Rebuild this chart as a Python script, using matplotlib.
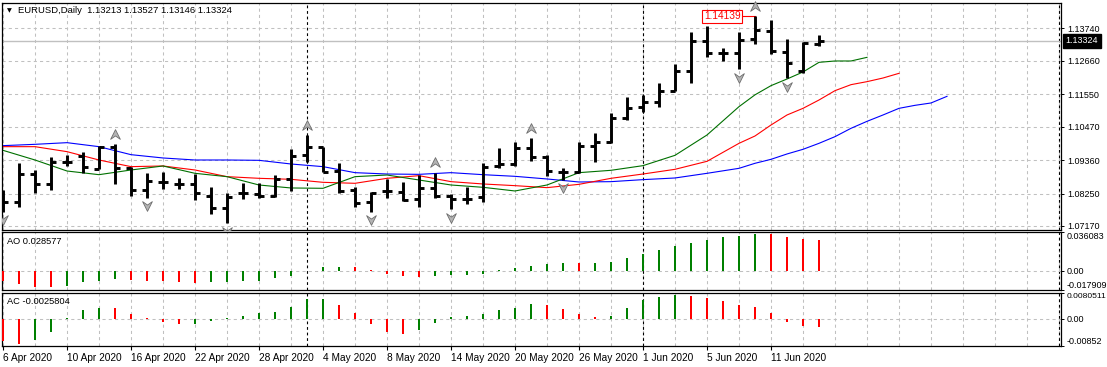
import numpy as np
import pandas as pd
import matplotlib
matplotlib.use('Agg')
import matplotlib.pyplot as plt
from matplotlib.path import Path
from matplotlib.ticker import MultipleLocator, FixedLocator
from matplotlib.transforms import ScaledTranslation

plt.rcParams['font.family'] = ['Liberation Sans', 'DejaVu Sans']
plt.rcParams['font.size'] = 7

# daily EURUSD bars, 6 Apr .. 16 Jun 2020
dates = pd.bdate_range('2020-04-06', '2020-06-16')

opens = [1.08050, 1.07957, 1.08898, 1.08555, 1.09287, 1.09508, 1.09076, 1.09807, 1.09087, 1.08367,
         1.08622, 1.08578, 1.08578, 1.08168, 1.07758, 1.08256, 1.08234, 1.08168, 1.08733, 1.09519,
         1.09796, 1.09009, 1.08367, 1.07957, 1.08334, 1.08312, 1.08068, 1.08445, 1.08168, 1.08068,
         1.08123, 1.09176, 1.09220, 1.09774, 1.09475, 1.08976, 1.08954, 1.09841, 1.09973, 1.10749,
         1.11115, 1.11303, 1.11669, 1.12333, 1.13331, 1.12932, 1.12932, 1.13386, 1.13663, 1.12943,
         1.12333, 1.13213]
highs = [1.08367, 1.09254, 1.09032, 1.09475, 1.09530, 1.09641, 1.09841, 1.09896, 1.09143, 1.08943,
         1.08976, 1.08777, 1.08887, 1.08456, 1.08278, 1.08611, 1.08589, 1.08865, 1.09719, 1.10195,
         1.09807, 1.09254, 1.08478, 1.08312, 1.08733, 1.08644, 1.08865, 1.08943, 1.08223, 1.08478,
         1.09254, 1.09752, 1.09973, 1.10084, 1.09519, 1.09087, 1.09951, 1.10273, 1.10915, 1.11447,
         1.11524, 1.11912, 1.12555, 1.13607, 1.13818, 1.13100, 1.13607, 1.14139, 1.14017, 1.13386,
         1.13297, 1.13527]
lows = [1.07647, 1.07813, 1.08278, 1.08367, 1.09176, 1.08921, 1.09054, 1.08555, 1.08168, 1.08112,
        1.08389, 1.08389, 1.08035, 1.07558, 1.07259, 1.08068, 1.08090, 1.08146, 1.08334, 1.09309,
        1.08954, 1.08278, 1.07791, 1.07647, 1.08112, 1.08002, 1.07813, 1.08090, 1.07725, 1.07902,
        1.07979, 1.09087, 1.09176, 1.09331, 1.08832, 1.08699, 1.08921, 1.09309, 1.09918, 1.10694,
        1.10971, 1.11137, 1.11669, 1.11934, 1.12776, 1.12666, 1.12378, 1.13209, 1.12876, 1.12079,
        1.12267, 1.13146]
closes = [1.07957, 1.08898, 1.08555, 1.09287, 1.09287, 1.09143, 1.09807, 1.09087, 1.08367, 1.08666,
          1.08622, 1.08578, 1.08256, 1.07758, 1.08146, 1.08256, 1.08179, 1.08733, 1.09497, 1.09796,
          1.08976, 1.08345, 1.07946, 1.08278, 1.08334, 1.08035, 1.08445, 1.08168, 1.08068, 1.08068,
          1.09143, 1.09220, 1.09774, 1.09475, 1.08998, 1.08976, 1.09841, 1.09973, 1.10749, 1.11081,
          1.11303, 1.11669, 1.12322, 1.13331, 1.12932, 1.12932, 1.13353, 1.13685, 1.12998, 1.12577,
          1.13242, 1.13324]

# alligator lines (shifted forward), read at these bar positions
jaw_idx = list(range(0, 46, 2)) + list(range(46, 60))
jaw = [1.09841, 1.09885, 1.09940, 1.09807, 1.09541, 1.09431, 1.09364, 1.09364, 1.09353, 1.09231,
       1.09143, 1.08943, 1.08898, 1.08887, 1.08943, 1.08876, 1.08821, 1.08733, 1.08633, 1.08644,
       1.08711, 1.08766, 1.08921,
       1.09087, 1.09254, 1.09386, 1.09564, 1.09719, 1.09918, 1.10140, 1.10417, 1.10649, 1.10860,
       1.11081, 1.11181, 1.11259, 1.11480]
teeth_idx = list(range(0, 46, 2)) + list(range(46, 57))
teeth = [1.09807, 1.09807, 1.09641, 1.09364, 1.09143, 1.09165, 1.09032, 1.08810, 1.08755, 1.08722,
         1.08622, 1.08589, 1.08755, 1.08843, 1.08644, 1.08567, 1.08511, 1.08445, 1.08555, 1.08755,
         1.08898, 1.09054, 1.09320,
         1.09918, 1.10162, 1.10527, 1.10860, 1.11081, 1.11358, 1.11669, 1.11868, 1.11968, 1.12089,
         1.12245]
lips_idx = list(range(0, 46, 2)) + list(range(46, 55))
lips = [1.09685, 1.09364, 1.08998, 1.08876, 1.09032, 1.09165, 1.08921, 1.08810, 1.08533, 1.08434,
        1.08423, 1.08810, 1.08865, 1.08699, 1.08533, 1.08456, 1.08334, 1.08533, 1.08943, 1.09021,
        1.09176, 1.09519, 1.10195,
        1.11137, 1.11530, 1.11835, 1.12056, 1.12289, 1.12610, 1.12655, 1.12655, 1.12776]

frac_up = [7, 19, 27, 33, 47]
frac_down = [0, 9, 14, 23, 28, 35, 46, 49]

ao = [-0.0092, -0.0123, -0.0153, -0.0154, -0.0138, -0.0107, -0.0092, -0.0077, -0.0083, -0.0092,
      -0.0098, -0.0107, -0.0117, -0.0107, -0.0106, -0.0098, -0.0092, -0.0071, -0.0052, -0.0004,
      0.0031, 0.0032, 0.0030, 0.0003, -0.0034, -0.0052, -0.0061, -0.0052, -0.0043, -0.0042,
      -0.0034, 0.0002, 0.0021, 0.0046, 0.0058, 0.0067, 0.0066, 0.0069, 0.0080, 0.0114,
      0.0153, 0.0187, 0.0224, 0.0255, 0.0279, 0.0307, 0.0319, 0.0337, 0.0335, 0.0307,
      0.0291, 0.028577]
ac = [-0.0069, -0.0077, -0.0066, -0.0040, 0.0001, 0.0026, 0.0034, 0.0033, 0.0015, 0.0002,
      -0.0009, -0.0018, -0.0015, -0.0008, 0.0001, 0.0009, 0.0018, 0.0021, 0.0037, 0.0059,
      0.0060, 0.0043, 0.0018, -0.0015, -0.0040, -0.0046, -0.0036, -0.0012, 0.0006, 0.0009,
      0.0015, 0.0028, 0.0034, 0.0046, 0.0043, 0.0031, 0.0015, 0.0006, 0.0009, 0.0034,
      0.0056, 0.0068, 0.0072, 0.0071, 0.0064, 0.0055, 0.0043, 0.0037, 0.0018, -0.0011,
      -0.0024, -0.0025804]

price_ticks = [1.07170, 1.08250, 1.09360, 1.10470, 1.11550, 1.12660, 1.13740]
ao_ticks = [-0.017909, 0.0, 0.036083]
ac_ticks = [-0.00852, 0.0, 0.0080511]
ao_labels = ['-0.017909', '0.00', '0.036083']
ac_labels = ['-0.00852', '0.00', '0.0080511']

W, H = 1107, 367
NUM_FS = 6.5
fig = plt.figure(figsize=(W / 100, H / 100), dpi=100)
fig.patch.set_facecolor('white')


def px_axes(left, top, right, bottom):
    return fig.add_axes([left / W, 1 - bottom / H, (right - left) / W, (bottom - top) / H])


ax = px_axes(2, 2.5, 1061, 230)
ax_ao = px_axes(2, 231.5, 1061, 290)
ax_ac = px_axes(2, 292.5, 1061, 346.3)

grid_kw = dict(color='#c0c0c0', linestyle=(0, (3, 3)), linewidth=0.75)
sep_kw = dict(color='black', linestyle=(0, (2.5, 2.5)), linewidth=0.8)
x = np.arange(len(closes))
month_start = [i for i in range(1, len(dates)) if dates[i].month != dates[i - 1].month]

for a in (ax, ax_ao, ax_ac):
    a.set_xlim(-0.0625, 66.125)
    a.xaxis.set_major_locator(FixedLocator(list(range(0, len(x), 4))))
    a.xaxis.set_minor_locator(MultipleLocator(2))
    a.grid(True, which='both', axis='x', **grid_kw)
    a.set_axisbelow(True)
    for s in a.spines.values():
        s.set_linewidth(0.9)
        s.set_color('black')
    a.yaxis.tick_right()
    a.tick_params(axis='y', which='both', direction='out', length=2.2, width=0.7, pad=2.0,
                  labelsize=NUM_FS, colors='black')
    a.tick_params(axis='x', which='minor', length=0)
    for m in month_start:
        a.axvline(m, zorder=1, **sep_kw)
    a.axvline(66.0, zorder=1, **sep_kw)

for a in (ax, ax_ao):
    a.tick_params(axis='x', which='major', length=0, labelbottom=False)

# main price panel
ax.set_ylim(1.07037, 1.14599)
ax.set_yticks(price_ticks)
ax.set_yticklabels([f'{v:.5f}' for v in price_ticks])
ax.grid(True, axis='y', **grid_kw)
ax.axhline(closes[-1], color='#c0c0c0', linewidth=1.0, zorder=1.5)

ax.plot(jaw_idx, jaw, color='#0000ff', linewidth=0.8, zorder=2)
ax.plot(teeth_idx, teeth, color='#ff0000', linewidth=0.8, zorder=2)
ax.plot(lips_idx, lips, color='#007000', linewidth=0.8, zorder=2)

bar_kw = dict(color='black', linewidth=2.1, capstyle='butt', zorder=3)
ax.vlines(x, lows, highs, **bar_kw)
ax.hlines(opens, x - 0.32, x, **bar_kw)
ax.hlines(closes, x, x + 0.32, **bar_kw)

up_path = Path([(0, 0.5), (0.5, -0.5), (0, -0.15), (-0.5, -0.5), (0, 0.5)],
               [Path.MOVETO, Path.LINETO, Path.LINETO, Path.LINETO, Path.CLOSEPOLY])
down_path = Path([(0, -0.5), (0.5, 0.5), (0, 0.15), (-0.5, 0.5), (0, -0.5)],
                 [Path.MOVETO, Path.LINETO, Path.LINETO, Path.LINETO, Path.CLOSEPOLY])
up_tr = ax.transData + ScaledTranslation(0, 7.5 / 72, fig.dpi_scale_trans)
down_tr = ax.transData + ScaledTranslation(0, -6.0 / 72, fig.dpi_scale_trans)
ax.plot(frac_up, [highs[i] for i in frac_up], linestyle='none', marker=up_path, markersize=7,
        markerfacecolor='#b4b4b4', markeredgecolor='#6e6e6e', markeredgewidth=0.6,
        transform=up_tr, zorder=4, clip_on=False)
ax.plot(frac_down, [lows[i] for i in frac_down], linestyle='none', marker=down_path, markersize=7,
        markerfacecolor='#b4b4b4', markeredgecolor='#6e6e6e', markeredgewidth=0.6,
        transform=down_tr, zorder=4)

# high label
hi = int(np.argmax(highs))
ax.plot([hi - 0.9, hi], [highs[hi], highs[hi]], color='red', linewidth=0.8, zorder=2.5)
ax.text(hi - 0.9, highs[hi], f'{highs[hi]:.5f}', ha='right', va='center', color='red',
        fontsize=7.3, zorder=5,
        bbox=dict(facecolor='white', edgecolor='red', linewidth=0.8, pad=1.2))

# current price tag
ax.text(1.0045, closes[-1], f'{closes[-1]:.5f}', transform=ax.get_yaxis_transform(),
        ha='left', va='center', color='white', fontsize=NUM_FS, clip_on=False,
        bbox=dict(facecolor='black', edgecolor='black', pad=1.8))

# AO panel
ao_col = ['#ff0000'] + ['#008000' if ao[i] > ao[i - 1] else '#ff0000' for i in range(1, len(ao))]
ax_ao.bar(x, ao, width=0.18, color=ao_col, zorder=3)
ax_ao.set_ylim(ao_ticks[0], ao_ticks[-1])
ax_ao.axhline(0, **grid_kw, zorder=1)
ax_ao.set_yticks(ao_ticks)
ax_ao.set_yticklabels(ao_labels)

# AC panel
ac_col = ['#ff0000'] + ['#008000' if ac[i] > ac[i - 1] else '#ff0000' for i in range(1, len(ac))]
ax_ac.bar(x, ac, width=0.18, color=ac_col, zorder=3)
ax_ac.set_ylim(ac_ticks[0], ac_ticks[-1])
ax_ac.axhline(0, **grid_kw, zorder=1)
ax_ac.set_yticks(ac_ticks)
ax_ac.set_yticklabels(ac_labels)

for a in (ax_ao, ax_ac):
    labs = a.get_yticklabels()
    labs[0].set_va('bottom')
    labs[-1].set_va('top')
ax_ac.get_yticklabels()[-1].set_fontsize(6.1)

# date axis
ax_ac.set_xticklabels([d.strftime('%-d %b %Y') for d in dates[::4]], ha='left', fontsize=7.3)
ax_ac.tick_params(axis='x', which='major', direction='out', length=3, width=0.8, pad=1.5)

# titles
fig.text(7 / W, 1 - 10.5 / H, '\u25bc', fontsize=4.5, va='center', ha='left',
         family=['DejaVu Sans'])
fig.text(18 / W, 1 - 10.5 / H, 'EURUSD,Daily  1.13213 1.13527 1.13146 1.13324',
         fontsize=6.8, va='center', ha='left')
fig.text(7 / W, 1 - 242 / H, f'AO {ao[-1]:.6f}', fontsize=6.7, va='center', ha='left')
fig.text(7 / W, 1 - 301 / H, f'AC {ac[-1]:.7f}', fontsize=6.7, va='center', ha='left')

fig.savefig('out.png', dpi=100, facecolor='white')
